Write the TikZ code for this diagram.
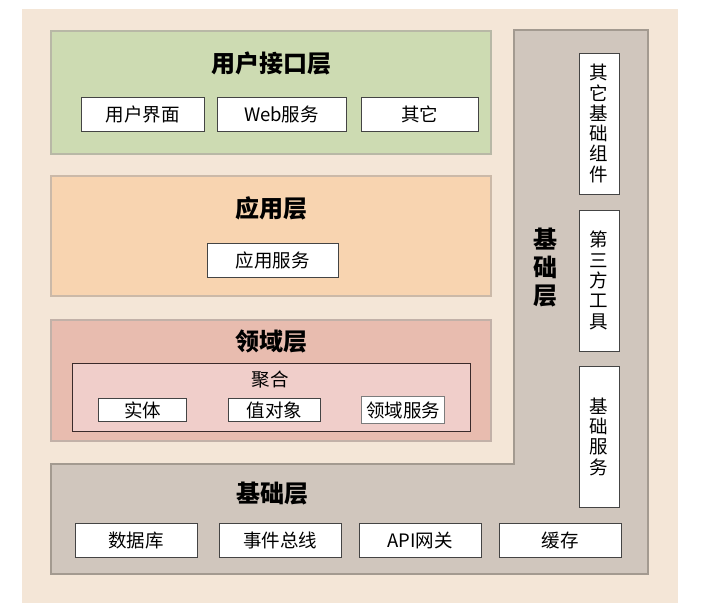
\documentclass[tikz,border=0pt]{standalone}
\usepackage{fontspec}
\setmainfont{Noto Sans CJK SC}
\definecolor{bgc}{HTML}{F4E6D7}
\definecolor{greenc}{HTML}{CDDBB2}
\definecolor{greenb}{HTML}{B8B8A6}
\definecolor{orangec}{HTML}{F8D4B0}
\definecolor{orangeb}{HTML}{CBB9A8}
\definecolor{redc}{HTML}{E8BCAF}
\definecolor{redb}{HTML}{C2B1A8}
\definecolor{aggc}{HTML}{F0CECA}
\definecolor{aggb}{HTML}{3A2A2A}
\definecolor{greyc}{HTML}{D0C6BD}
\definecolor{greyb}{HTML}{A39A90}
\definecolor{boxline}{HTML}{444444}
\tikzset{
  layer/.style={line width=2pt},
  wbox/.style={draw=boxline, fill=white, line width=0.9pt, inner sep=0pt, font=\fontsize{18.5}{20}\selectfont},
  vbox/.style={draw=boxline, fill=white, line width=0.9pt, inner sep=0pt, minimum width=40pt, minimum height=141pt, align=center, font=\fontsize{18.5}{20.3}\selectfont},
  title/.style={font=\fontsize{24}{28}\selectfont\bfseries, inner sep=0pt},
  sub/.style={font=\fontsize{18.5}{20}\selectfont, inner sep=0pt}
}
\begin{document}
\begin{tikzpicture}[x=1pt,y=-1pt]
\useasboundingbox (0,0) rectangle (727,608);
\fill[white] (0,0) rectangle (727,608);
\fill[bgc] (22,9) rectangle (678,603);
% user interface layer
\draw[layer, draw=greenb, fill=greenc] (51,31) rectangle (491,154);
\node[title] (uit) at (271,63) {用户接口层};
\node[wbox, minimum width=123pt, minimum height=34pt] (ui) at (142.5,114) {用户界面};
\node[wbox, minimum width=129pt, minimum height=34pt] (web) at (281.5,114) {Web服务};
\node[wbox, minimum width=117pt, minimum height=34pt] (oth) at (419.5,114) {其它};
% application layer
\draw[layer, draw=orangeb, fill=orangec] (51,176) rectangle (491,296);
\node[title] (appt) at (271,208) {应用层};
\node[wbox, minimum width=131pt, minimum height=34pt] (apps) at (272.5,260) {应用服务};
% domain layer
\draw[layer, draw=redb, fill=redc] (51,320) rectangle (491,441);
\node[title] (domt) at (271,341) {领域层};
\draw[line width=0.9pt, draw=aggb, fill=aggc] (72,363) rectangle (470,431);
\node[sub] (agg) at (270,380) {聚合};
\node[wbox, minimum width=88pt, minimum height=23pt] (ent) at (142.5,410) {实体};
\node[wbox, minimum width=92pt, minimum height=23pt] (vo) at (274.3,410) {值对象};
\node[wbox, draw=boxline!70, minimum width=83pt, minimum height=27pt] (dsv) at (403,410) {领域服务};
% infrastructure layer (L-shape)
\draw[layer, draw=greyb, fill=greyc] (514,30) -- (648,30) -- (648,574) -- (51,574) -- (51,464) -- (514,464) -- cycle;
\node[title] (inft) at (272,494) {基础层};
\node[title, align=center, font=\fontsize{24}{28}\selectfont\bfseries] (infv) at (545,268) {基\\础\\层};
\node[wbox, minimum width=122pt, minimum height=34pt] (db) at (136,540) {数据库};
\node[wbox, minimum width=122pt, minimum height=34pt] (bus) at (280,540) {事件总线};
\node[wbox, minimum width=122pt, minimum height=34pt] (api) at (420,540) {API网关};
\node[wbox, minimum width=122pt, minimum height=34pt] (cache) at (560,540) {缓存};
\node[vbox] (obc) at (599,123.5) {其\\它\\基\\础\\组\\件};
\node[vbox] (tpt) at (599,280.5) {第\\三\\方\\工\\具};
\node[vbox] (bsv) at (599,436.5) {基\\础\\服\\务};
\end{tikzpicture}
\end{document}
